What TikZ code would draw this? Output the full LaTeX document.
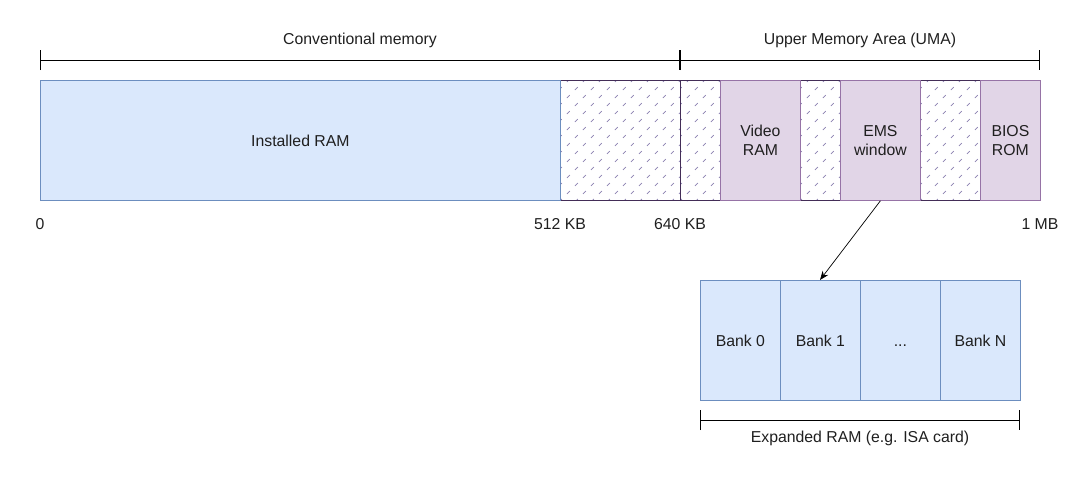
\documentclass[tikz,border=0pt]{standalone}
\usepackage{fontspec}
\setmainfont{Liberation Sans}
\usetikzlibrary{arrows.meta}
\definecolor{bfill}{HTML}{DAE8FC}
\definecolor{bdraw}{HTML}{6C8EBF}
\definecolor{pfill}{HTML}{E1D5E7}
\definecolor{pdraw}{HTML}{9673A6}
\definecolor{hdraw}{HTML}{432D57}
\definecolor{hline}{HTML}{8A80B0}
\begin{document}
\begin{tikzpicture}[x=1pt,y=-1pt,
  every node/.style={font=\fontsize{15.8}{19}\selectfont, text=black!88},
  box/.style={draw, line width=0.8pt, minimum height=120pt, anchor=north west, inner sep=0pt, align=center},
  bluebox/.style={box, fill=bfill, draw=bdraw},
  purplebox/.style={box, fill=pfill, draw=pdraw},
  hatchbox/.style={box, fill=white, draw=hdraw,
    path picture={\foreach \i in {-144,-128,...,144}
      \draw[hline, line width=0.7pt, dash pattern=on 4pt off 7.3pt, dash phase=2pt]
        ([xshift=\i pt]path picture bounding box.south west) -- ++(150pt,150pt);}},
  brace/.style={line width=0.9pt, {Bar[width=20pt]}-{Bar[width=20pt]}},
  lbl/.style={inner sep=0pt}
]
\useasboundingbox (0,0) rectangle (1080,480);

% hatched boxes first
\node[hatchbox, minimum width=120pt] (h1) at (560,80) {};
\node[hatchbox, minimum width=40pt] (h2) at (680,80) {};
\node[hatchbox, minimum width=40pt] (h3) at (800,80) {};
\node[hatchbox, minimum width=60pt] (h4) at (920,80) {};

% solid boxes
\node[bluebox, minimum width=520pt] (inst) at (40,80) {Installed RAM};
\node[purplebox, minimum width=80pt] (video) at (720,80) {Video\\RAM};
\node[purplebox, minimum width=80pt] (ems) at (840,80) {EMS\\window};
\node[purplebox, minimum width=60pt] (bios) at (980,80) {BIOS\\ROM};

% banks
\node[bluebox, minimum width=80pt] (b0) at (700,280) {Bank 0};
\node[bluebox, minimum width=80pt] (b1) at (780,280) {Bank 1};
\node[bluebox, minimum width=80pt] (b2) at (860,280) {\vphantom{Bk}.{}.{}.};
\node[bluebox, minimum width=80pt] (bn) at (940,280) {Bank N};

% braces
\coordinate (cA) at (40,60);
\coordinate (cB) at (680,60);
\coordinate (cC) at (1040,60);
\coordinate (cD) at (700,420);
\coordinate (cE) at (1020,420);
\draw[brace] (cA) -- (cB);
\draw[brace] (cB) -- (cC);
\draw[brace] (cD) -- (cE);
\node[lbl] (lconv) at (360,40) {Conventional memory};
\node[lbl] (luma) at (860,40) {Upper Memory Area (UMA)};
\node[lbl] (lexp) at (860,438) {Expanded RAM (e.g. ISA card)};

% address labels
\node[lbl] (a0) at (40,224) {0};
\node[lbl] (a512) at (560,224) {512 KB};
\node[lbl] (a640) at (680,224) {640 KB};
\node[lbl] (a1m) at (1040,224) {1 MB};

% arrow
\coordinate (arrEnd) at (820,280);
\draw[line width=0.7pt, -{Stealth[length=9pt,width=7pt]}] (ems.south) -- (arrEnd);
\end{tikzpicture}
\end{document}
